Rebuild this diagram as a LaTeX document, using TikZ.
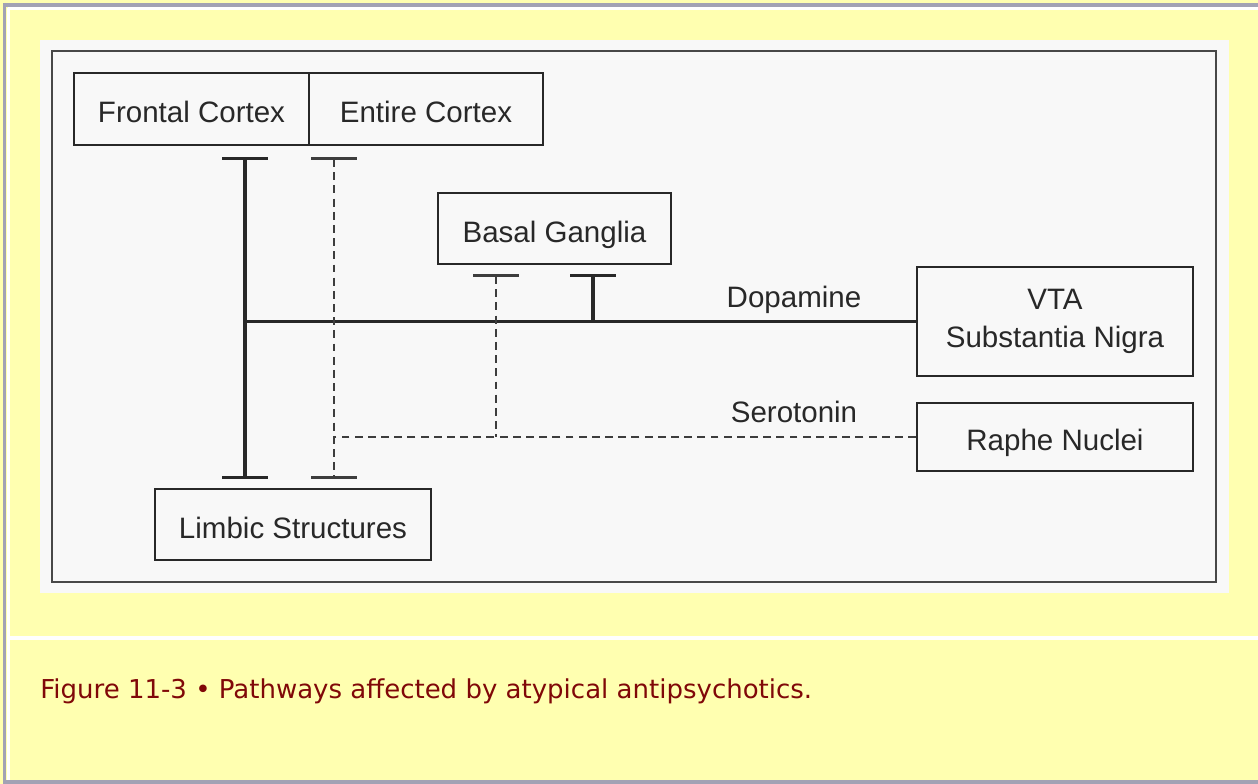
\documentclass[tikz,border=0pt]{standalone}
\usepackage{fontspec}
\setmainfont{Liberation Sans}
\newfontfamily\capfont{DejaVu Sans}
\usepackage{tikz}
\usetikzlibrary{arrows.meta, positioning, calc}
\definecolor{mypaper}{RGB}{255,255,176}
\definecolor{myedge}{RGB}{162,162,180}
\definecolor{mypanel}{RGB}{248,248,248}
\definecolor{myink}{RGB}{40,40,40}
\definecolor{mycaption}{RGB}{128,8,8}
\tikzset{
  region/.style={rectangle, draw=myink, line width=1.1pt, inner sep=0pt,
    text=myink, align=center, text height=16.8pt, text depth=1.3pt,
    font=\fontsize{16.8pt}{21.6pt}\selectfont},
  pathlabel/.style={inner sep=0pt, text=myink,
    font=\fontsize{16.8pt}{21.6pt}\selectfont},
  blockbar/.tip={Bar[width=0.92cm, line width=1.6pt]},
  dopamine/.style={line width=1.8pt, color=myink},
  serotonin/.style={line width=0.9pt, color=myink!90,
    dash pattern=on 4.5pt off 3pt},
  caption/.style={anchor=base west, inner sep=0pt, text=mycaption,
    font=\capfont\fontsize{14.8pt}{17pt}\selectfont}
}
\begin{document}
\begin{tikzpicture}[x=0.02cm, y=-0.02cm]
  \useasboundingbox (0,0) rectangle (1258,784);
  % Page
  \fill[mypaper] (0,0) rectangle (1258,784);
  \draw[white, line width=1.2pt] (8,8.5) -- (1258,8.5);
  \draw[white, line width=1.2pt] (8.5,8) -- (8.5,784);
  \draw[myedge, line width=1.8pt] (3,5) -- (1258,5);
  \draw[myedge, line width=1.8pt] (4.5,3) -- (4.5,784);
  \draw[myedge, line width=2.2pt] (3,782) -- (1258,782);
  \draw[white, line width=2.2pt] (10,638) -- (1258,638);
  % Figure panel
  \fill[mypanel] (40,40) rectangle (1229,593);
  \draw[myink!85, line width=1.4pt] (52,51) rectangle (1216,582);
  % Regions
  \node[region, minimum width=4.7cm, minimum height=1.44cm] (front) at (191.5,109) {Frontal Cortex};
  \node[region, minimum width=4.68cm, minimum height=1.44cm] (entire) at (426,109) {Entire Cortex};
  \node[region, minimum width=4.66cm, minimum height=1.42cm] (basal) at (554.5,228.5) {Basal Ganglia};
  \node[region, text height=, text depth=, minimum width=5.52cm, minimum height=2.18cm] (vta) at (1055,321.5) {VTA\\Substantia Nigra};
  \node[region, minimum width=5.52cm, minimum height=1.36cm] (raphe) at (1055,437) {Raphe Nuclei};
  \node[region, minimum width=5.52cm, minimum height=1.42cm] (limbic) at (293,524.5) {Limbic Structures};
  % Bar ends
  \coordinate (frontT) at (245,157);
  \coordinate (frontB) at (245,479);
  \coordinate (entireT) at (334,157);
  \coordinate (entireB) at (334,479);
  \coordinate (basalS) at (496,274);
  \coordinate (basalD) at (593,274);
  % Dopamine pathways
  \draw[dopamine, blockbar-blockbar] (frontT) -- (frontB);
  \draw[dopamine] (vta.west) -- (vta.west -| frontT);
  \draw[dopamine, blockbar-] (basalD) -- (basalD |- vta.west);
  \node[pathlabel, anchor=base] (dopa) at (794,307) {Dopamine};
  % Serotonin pathways
  \draw[serotonin, blockbar-blockbar] (entireT) -- (entireB);
  \draw[serotonin] (raphe.west) -- (raphe.west -| entireT);
  \draw[serotonin, blockbar-] (basalS) -- (basalS |- raphe.west);
  \node[pathlabel, anchor=base] (sero) at (794,422) {Serotonin};
  % Caption
  \node[caption] (figcap) at (40,698) {Figure 11-3 • Pathways affected by atypical antipsychotics.};
\end{tikzpicture}
\end{document}
